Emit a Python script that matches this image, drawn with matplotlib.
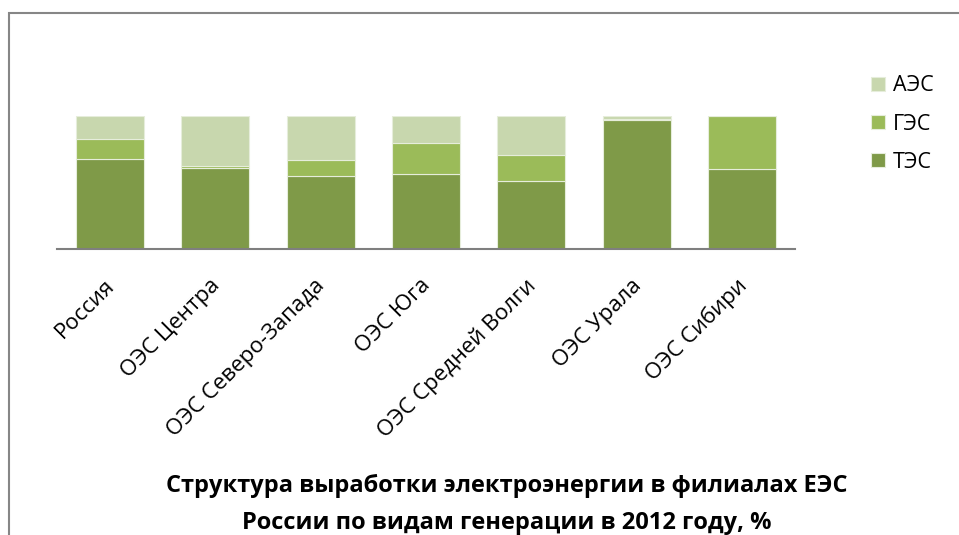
import numpy as np
import matplotlib
matplotlib.use("Agg")
import matplotlib.pyplot as plt
import matplotlib.transforms as mtransforms
from matplotlib.patches import Rectangle

categories = ["Россия", "ОЭС Центра", "ОЭС Северо-Запада", "ОЭС Юга",
              "ОЭС Средней Волги", "ОЭС Урала", "ОЭС Сибири"]
tes = [67.3, 61.0, 54.5, 56.0, 51.2, 96.8, 59.8]
ges = [15.3, 1.3, 12.5, 23.9, 19.6, 1.2, 40.2]
aes = [17.4, 37.7, 33.0, 20.1, 29.2, 2.0, 0.0]

colors = {"ТЭС": "#7f9a48", "ГЭС": "#9bbb59", "АЭС": "#c8d7ae"}

plt.rcParams['font.family'] = ['Open Sans', 'DejaVu Sans']

fig = plt.figure(figsize=(9.59, 5.35), dpi=100)
ax = fig.add_axes([57 / 959, 1 - 248.5 / 535, 738 / 959, 132.5 / 535])

x = np.arange(len(categories))
w = 0.645
edge = dict(edgecolor="#e6eddb", linewidth=0.8)
b1 = ax.bar(x, tes, w, color=colors["ТЭС"], label="ТЭС", **edge)
b2 = ax.bar(x, ges, w, bottom=tes, color=colors["ГЭС"], label="ГЭС", **edge)
bottom2 = np.array(tes) + np.array(ges)
b3 = ax.bar(x, aes, w, bottom=bottom2, color=colors["АЭС"], label="АЭС", **edge)

ax.set_xlim(-0.5, len(categories) - 0.5)
ax.set_ylim(0, 100)
ax.set_yticks([])
ax.set_xticks(x)
ax.set_xticklabels(categories, rotation=45, ha="right", rotation_mode="anchor",
                   fontsize=16)
ax.tick_params(axis="x", length=0, pad=19)
# nudge labels a little to the left, like the original
shift = mtransforms.ScaledTranslation(-6 / 100, 0, fig.dpi_scale_trans)
for lbl in ax.get_xticklabels():
    lbl.set_transform(lbl.get_transform() + shift)
for s in ["left", "right", "top"]:
    ax.spines[s].set_visible(False)
ax.spines["bottom"].set_color("#7f7f7f")
ax.spines["bottom"].set_linewidth(1.5)

# legend
leg = fig.legend(handles=[b3, b2, b1], labels=["АЭС", "ГЭС", "ТЭС"],
                 loc="upper left", bbox_to_anchor=(852 / 959, 1 - 56 / 535),
                 frameon=False, fontsize=15.5, handlelength=0.65, handleheight=0.65,
                 handletextpad=0.35, labelspacing=0.8)

fig.text(507 / 959, 1 - 486 / 535, "Структура выработки электроэнергии в филиалах ЕЭС",
         ha="center", va="center", fontsize=17, fontweight="bold")
fig.text(507 / 959, 1 - 523 / 535, "России по видам генерации в 2012 году, %",
         ha="center", va="center", fontsize=17, fontweight="bold")

# chart frame (cut off at the right and bottom)
fig.patches.append(Rectangle((9 / 959, -0.2), 2, 1 - 13 / 535 + 0.2,
                             transform=fig.transFigure, fill=False,
                             edgecolor="#868686", linewidth=1.5))

fig.savefig("out.png", dpi=100)
